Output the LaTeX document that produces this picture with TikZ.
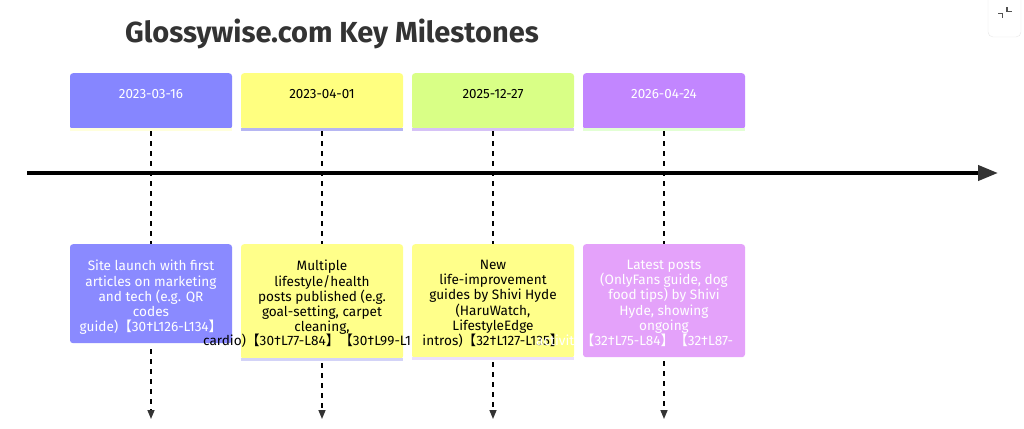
\documentclass[tikz,border=0pt]{standalone}
\usepackage{fontspec}
\setmainfont{Fira Sans}
\newfontfamily\cjk{Noto Sans CJK SC}
\usepackage{tikz}
\usetikzlibrary{positioning,arrows.meta}
\definecolor{ink}{HTML}{333333}
\definecolor{secblue}{HTML}{8686FF}
\definecolor{secyellow}{HTML}{FFFF80}
\definecolor{secgreen}{HTML}{D9FF86}
\definecolor{secpurple}{HTML}{C286FF}
\definecolor{evblue}{HTML}{8A8AFF}
\definecolor{evyellow}{HTML}{FFFF8A}
\definecolor{evpink}{HTML}{E4A2FA}
\definecolor{stripyellow}{HTML}{FFFFDC}
\definecolor{striplav}{HTML}{B6B6F2}
\definecolor{striplilac}{HTML}{D6C2F6}
\definecolor{stripmint}{HTML}{E2FFD4}
\definecolor{iconedge}{HTML}{E6E6E6}
\newcommand{\lbk}{{\cjk 【}}
\newcommand{\rbk}{{\cjk 】}}
\tikzset{
    datebox/.style={
        rounded corners=3pt, minimum width=162pt, minimum height=56pt,
        inner sep=0pt, anchor=north
    },
    datetext/.style={font=\fontsize{13.4}{15}\selectfont, inner sep=0pt},
    eventbox/.style={
        rounded corners=3pt, minimum width=162pt, inner sep=0pt, anchor=north
    },
    eventtext/.style={
        font=\fontsize{13.6}{15.2}\selectfont, align=center,
        inner sep=0pt, anchor=north
    },
    tailtext/.style={font=\fontsize{13.6}{15.2}\selectfont, inner sep=0pt, anchor=base west},
    bottomstrip/.style={line width=3pt},
    guide/.style={draw=black, line width=1.5pt, dash pattern=on 5pt off 5pt},
    guidearrow/.style={guide, -{Triangle[length=9pt,width=7pt,color=ink]}},
    timeaxis/.style={line width=4pt, -{Triangle[length=20pt,width=15pt,color=ink]}},
}

\begin{document}
\begin{tikzpicture}[x=1pt, y=-1pt]
    \useasboundingbox (0,0) rectangle (1024,428);
    \node[font=\fontsize{29}{32}\selectfont\bfseries, text=ink, anchor=base] (title) at (332,42) {Glossywise.com Key Milestones};

    \node[datebox, fill=secblue] (d1) at (151,73) {};
    \node[datebox, fill=secyellow] (d2) at (322,73) {};
    \node[datebox, fill=secgreen] (d3) at (493,73) {};
    \node[datebox, fill=secpurple] (d4) at (664,73) {};
    \draw[bottomstrip, stripyellow] (d1.south west) -- (d1.south east);
    \draw[bottomstrip, striplav] (d2.south west) -- (d2.south east);
    \draw[bottomstrip, striplilac] (d3.south west) -- (d3.south east);
    \draw[bottomstrip, stripmint] (d4.south west) -- (d4.south east);
    \node[datetext, text=white] (t1) at ([yshift=7pt]d1.center) {2023-03-16};
    \node[datetext, text=black] (t2) at ([yshift=7pt]d2.center) {2023-04-01};
    \node[datetext, text=black] (t3) at ([yshift=7pt]d3.center) {2025-12-27};
    \node[datetext, text=white] (t4) at ([yshift=7pt]d4.center) {2026-04-24};

    \coordinate (e1top) at (151,244);
    \coordinate (e2top) at (322,244);
    \coordinate (e3top) at (493,244);
    \coordinate (e4top) at (664,244);
    \draw[guide] ([yshift=-2pt]d1.south) -- (e1top);
    \draw[guide] ([yshift=-2pt]d2.south) -- (e2top);
    \draw[guide] ([yshift=-2pt]d3.south) -- (e3top);
    \draw[guide] ([yshift=-2pt]d4.south) -- (e4top);

    \coordinate (axisstart) at (27,173);
    \coordinate (axisend) at (998,173);
    \draw[timeaxis] (axisstart) -- (axisend);

    \node[eventbox, fill=evblue, minimum height=99pt] (e1) at (e1top) {};
    \node[eventtext, text=white] (x1) at (151,260) {Site launch with first\\articles on marketing\\and tech (e.g. QR\\codes\\guide)\lbk30†L126-L134\rbk};

    \node[eventbox, fill=evyellow, minimum height=115pt] (e2) at (e2top) {};
    \draw[bottomstrip, striplav!60] (e2.south west) -- (e2.south east);
    \node[eventtext, text=black] (x2) at (322,260) {Multiple\\lifestyle/health\\posts published (e.g.\\goal-setting, carpet\\cleaning,};
    \node[tailtext, text=black] (x2tail) at (203,345) {cardio)\lbk30†L77-L84\rbk\lbk30†L99-L1};

    \node[eventbox, fill=evyellow, minimum height=114pt] (e3) at (e3top) {};
    \draw[bottomstrip, striplilac!50] (e3.south west) -- (e3.south east);
    \node[eventtext, text=black] (x3) at (493,260) {New\\life-improvement\\guides by Shivi Hyde\\(HaruWatch,\\LifestyleEdge\\intros)\lbk32†L127-L135\rbk};

    \node[eventbox, fill=evpink, minimum height=113pt] (e4) at (e4top) {};
    \node[eventtext, text=white] (x4) at (664,260) {Latest posts\\(OnlyFans guide, dog\\food tips) by Shivi\\Hyde, showing\\ongoing};
    \node[tailtext, text=white] (x4tail) at (536,345) {activity\lbk32†L75-L84\rbk\lbk32†L87-};

    \coordinate (end1) at (151,419);
    \coordinate (end2) at (322,419);
    \coordinate (end3) at (493,419);
    \coordinate (end4) at (664,419);
    \draw[guidearrow] ([yshift=-6pt]e1.south) -- (end1);
    \draw[guidearrow] ([yshift=-4pt]e2.south) -- (end2);
    \draw[guidearrow] ([yshift=-4pt]e3.south) -- (end3);
    \draw[guidearrow] ([yshift=-4pt]e4.south) -- (end4);

    \draw[iconedge, fill=white, rounded corners=5pt] (988,-6) rectangle (1021,37);
    \draw[ink!85, line width=1.1pt] (1007,7.5) -- (1007,11.7) -- (1011.5,11.7);
    \draw[ink!85, line width=1.1pt] (998,13.3) -- (1002.7,13.3) -- (1002.7,18);
\end{tikzpicture}
\end{document}
